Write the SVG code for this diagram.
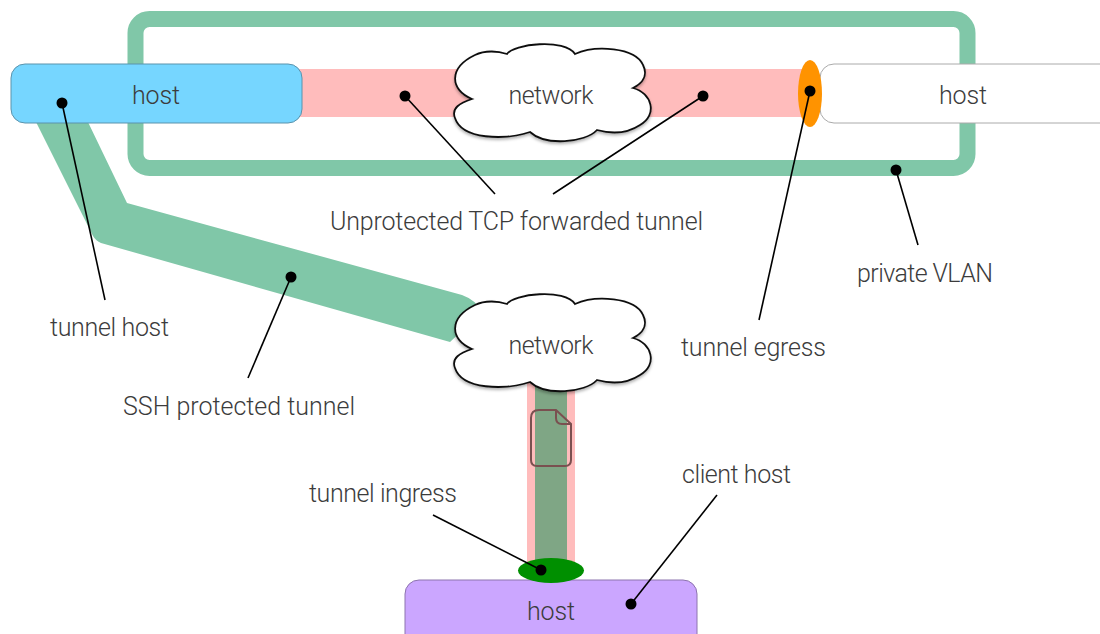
<svg xmlns="http://www.w3.org/2000/svg" width="1100" height="634" viewBox="0 0 1100 634">
<style>
text{font-family:Roboto,"Liberation Sans",Arial,sans-serif;font-weight:300;font-size:25px;fill:#3c3c3c}
.m{text-anchor:middle}
.host{stroke-width:1}
.lead{stroke:#000;stroke-width:1.600;fill:none}
.dot{fill:#000}
.cloud{fill:#fff;stroke:#111;stroke-width:1.800;filter:url(#sh)}
</style>
<defs>
<filter id="sh" x="-10%" y="-10%" width="120%" height="125%"><feDropShadow dx="0" dy="2" stdDeviation="1.500" flood-color="#000" flood-opacity="0.3"/></filter>
<path id="cl" d="M42 69C20 60 18 38 45 25C55 20 68 21 77 24C83 14 135 8 145 24C165 15 205 17 213 35C218 45 213 53 203 58C222 63 228 85 210 95C195 105 178 103 167 100C155 113 115 116 100 102C75 110 32 110 25 88C21 78 30 73 42 69Z"/>
</defs>
<g id="frame"><rect x="135.500" y="19" width="832" height="149" rx="14" fill="none" stroke="#80c7a8" stroke-width="16"/></g>
<g id="ssh-tunnel"><path d="M35 120H87L127 203L462 295Q476 300 482 312L450 342L101 243Q96 241 93 236Z" fill="#80c7a8"/></g>
<g id="tcp-tunnel"><rect x="295" y="69" width="520" height="48" fill="#ffbcbc"/></g>
<g id="client-tunnel">
<rect x="527" y="375" width="48" height="190" fill="#ffbcbc"/>
<rect x="535" y="375" width="32" height="190" fill="#7fa685"/>
<path d="M539 410H556L571 424V460Q571 466 565 466H537Q531 466 531 460V418Q531 410 539 410Z M556 410V418Q556 424 562 424H571" fill="none" stroke="#7a5050" stroke-width="2"/>
</g>
<g id="host-left"><rect class="host" x="11" y="64" width="291" height="59" rx="14" fill="#76d6ff" stroke="#5b93ac"/><text class="m" x="156" y="104" textLength="48">host</text></g>
<g id="host-right"><rect class="host" x="820" y="64" width="300" height="59" rx="14" fill="#fff" stroke="#aaa"/><text class="m" x="963" y="104" textLength="48">host</text></g>
<g id="host-client"><rect class="host" x="405" y="580" width="292" height="70" rx="14" fill="#cba6ff" stroke="#8d74ae"/><text class="m" x="551" y="620" textLength="48">host</text></g>
<g id="egress"><ellipse cx="810" cy="93.500" rx="12" ry="33.500" fill="#ff9300"/></g>
<g id="ingress"><ellipse cx="551" cy="570.500" rx="33" ry="12.500" fill="#008f00"/></g>
<g id="cloud-top"><use href="#cl" class="cloud" x="430" y="30"/><text class="m" x="551" y="104" textLength="85">network</text></g>
<g id="cloud-bottom"><use href="#cl" class="cloud" x="430" y="280"/><text class="m" x="551" y="354" textLength="85">network</text></g>
<g id="connectors">
<path class="lead" d="M62 103L105 300"/><circle class="dot" cx="62" cy="103" r="5.500"/>
<path class="lead" d="M405 96L495 194"/><circle class="dot" cx="405" cy="96" r="5.500"/>
<path class="lead" d="M703 96L553 194"/><circle class="dot" cx="703" cy="96" r="5.500"/>
<path class="lead" d="M810 91L759 320"/><circle class="dot" cx="810" cy="91" r="5.500"/>
<path class="lead" d="M896 170L918 245"/><circle class="dot" cx="896" cy="170" r="5.500"/>
<path class="lead" d="M291 277L248 378"/><circle class="dot" cx="291" cy="277" r="5.500"/>
<path class="lead" d="M541 570L433 515"/><circle class="dot" cx="541" cy="570" r="5.500"/>
<path class="lead" d="M631 604L717 495"/><circle class="dot" cx="631" cy="604" r="5.500"/>
</g>
<g id="labels">
<text x="330" y="230" textLength="373">Unprotected TCP forwarded tunnel</text>
<text x="857" y="282" textLength="136">private VLAN</text>
<text x="50" y="336" textLength="119">tunnel host</text>
<text x="123" y="415" textLength="232">SSH protected tunnel</text>
<text x="681" y="356" textLength="145">tunnel egress</text>
<text x="682" y="483" textLength="109">client host</text>
<text x="309" y="502" textLength="148">tunnel ingress</text>
</g>
</svg>
